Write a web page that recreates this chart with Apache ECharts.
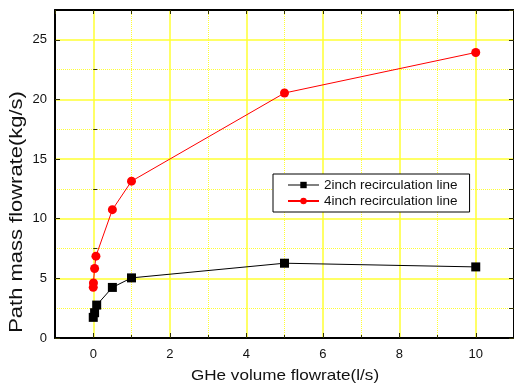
<!DOCTYPE html>
<html>
<head>
<meta charset="utf-8">
<script src="https://cdn.jsdelivr.net/npm/echarts@6/dist/echarts.min.js"></script>
<style>
  html, body { margin: 0; padding: 0; background: #fff; }
  #chart { width: 514px; height: 387px; }
</style>
</head>
<body>
<div id="chart"></div>
<script>
// GHe volume flowrate (l/s) vs. path mass flowrate (kg/s)
const line2inchX = [0, 0.035, 0.09, 0.5, 1, 5, 10];
const line2inchY = [1.73, 2.12, 2.76, 4.24, 5.04, 6.27, 5.96];
const line4inchX = [0, 0.005, 0.035, 0.07, 0.5, 1, 5, 10];
const line4inchY = [4.25, 4.62, 5.83, 6.86, 10.76, 13.15, 20.54, 23.94];

const seriesNames = ['2inch recirculation line', '4inch recirculation line'];

const xMajorTicks = [0, 2, 4, 6, 8, 10];
const xMinorTicks = [1, 3, 5, 7, 9];
const xAllTicks = [-1, 0, 1, 2, 3, 4, 5, 6, 7, 8, 9, 10, 11];
const yMajorTicks = [0, 5, 10, 15, 20, 25];
const yMinorTicks = [2.5, 7.5, 12.5, 17.5, 22.5];
const yAllTicks = [0, 2.5, 5, 7.5, 10, 12.5, 15, 17.5, 20, 22.5, 25, 27.5];

const xTitle = 'GHe volume flowrate(l/s)';
const yTitle = 'Path mass flowrate(kg/s)';

const FONT = '"Liberation Sans", Arial, sans-serif';
const YELLOW = '#ffff33';
const TICK = '#333300';

const pairs = (xs, ys) => xs.map((x, i) => [x, ys[i]]);

const chart = echarts.init(document.getElementById('chart'), null, { renderer: 'canvas' });

const hiddenAxisBits = { axisLine: { show: false }, axisLabel: { show: false } };

chart.setOption({
  animation: false,
  backgroundColor: '#fff',
  textStyle: { fontFamily: FONT },
  grid: { left: 55, top: 10, width: 460.8, height: 328, containLabel: false },
  xAxis: [
    {
      type: 'value', min: -1, max: 11, position: 'bottom',
      axisLine: { onZero: false, lineStyle: { color: '#000', width: 2 } },
      axisTick: { inside: true, length: 5, customValues: xMajorTicks, lineStyle: { color: TICK, width: 1 } },
      axisLabel: { customValues: xMajorTicks, fontSize: 13, color: '#111', margin: 10, fontFamily: FONT },
      splitLine: { show: true, lineStyle: { color: YELLOW, width: 1.5 } }
    },
    Object.assign({
      type: 'value', min: -1, max: 11, position: 'bottom', offset: 0,
      axisTick: { inside: true, length: 3, customValues: xMinorTicks, lineStyle: { color: TICK } },
      splitLine: { show: true, lineStyle: { color: YELLOW, width: 1, type: [1, 1] } }
    }, hiddenAxisBits),
    {
      type: 'value', min: -1, max: 11, position: 'top',
      axisLine: { onZero: false, lineStyle: { color: '#000', width: 2 } },
      axisTick: { inside: true, length: 4, customValues: xAllTicks, lineStyle: { color: TICK } },
      axisLabel: { show: false },
      splitLine: { show: false }
    }
  ],
  yAxis: [
    {
      type: 'value', min: 0, max: 27.5, position: 'left',
      axisLine: { onZero: false, lineStyle: { color: '#000', width: 2 } },
      axisTick: { inside: true, length: 5, customValues: yMajorTicks, lineStyle: { color: TICK } },
      axisLabel: { customValues: yMajorTicks, fontSize: 13, color: '#111', margin: 8, fontFamily: FONT },
      splitLine: { show: true, lineStyle: { color: YELLOW, width: 1.5 } }
    },
    Object.assign({
      type: 'value', min: 0, max: 27.5, position: 'left', offset: 0,
      axisTick: { inside: true, length: 4, customValues: yMinorTicks, lineStyle: { color: TICK } },
      splitLine: { show: true, lineStyle: { color: YELLOW, width: 1, type: [1, 1] } }
    }, hiddenAxisBits),
    {
      type: 'value', min: 0, max: 27.5, position: 'right',
      axisLine: { onZero: false, lineStyle: { color: '#000', width: 2 } },
      axisTick: { inside: true, length: 5, customValues: yAllTicks, lineStyle: { color: TICK } },
      axisLabel: { show: false },
      splitLine: { show: false }
    }
  ],
  legend: {
    orient: 'vertical',
    left: 273, top: 174,
    padding: [4, 12, 4, 14],
    itemGap: 2,
    itemWidth: 31, itemHeight: 8,
    borderColor: '#000', borderWidth: 1,
    backgroundColor: '#fff',
    textStyle: { fontSize: 13.5, color: '#111', fontFamily: FONT },
    data: [
      { name: seriesNames[0], lineStyle: { color: '#808080' } },
      { name: seriesNames[1] }
    ]
  },
  graphic: [
    {
      type: 'text', x: 17, y: 212, rotation: Math.PI / 2, scaleX: 1.22,
      style: { text: yTitle, fontSize: 18, fontFamily: FONT, fill: '#111', align: 'center', verticalAlign: 'middle' }
    },
    {
      type: 'text', x: 285, y: 376, scaleX: 1.14,
      style: { text: xTitle, fontSize: 15, fontFamily: FONT, fill: '#111', align: 'center', verticalAlign: 'middle' }
    }
  ],
  series: [
    {
      name: seriesNames[0], type: 'line', xAxisIndex: 0, yAxisIndex: 0,
      data: pairs(line2inchX, line2inchY),
      symbol: 'rect', symbolSize: 9,
      lineStyle: { color: '#000', width: 1 },
      itemStyle: { color: '#000' },
      z: 3
    },
    {
      name: seriesNames[1], type: 'line', xAxisIndex: 0, yAxisIndex: 0,
      data: pairs(line4inchX, line4inchY),
      symbol: 'circle', symbolSize: 9,
      lineStyle: { color: '#ff0000', width: 1 },
      itemStyle: { color: '#ff0000' },
      z: 3
    }
  ]
});
</script>
</body>
</html>
